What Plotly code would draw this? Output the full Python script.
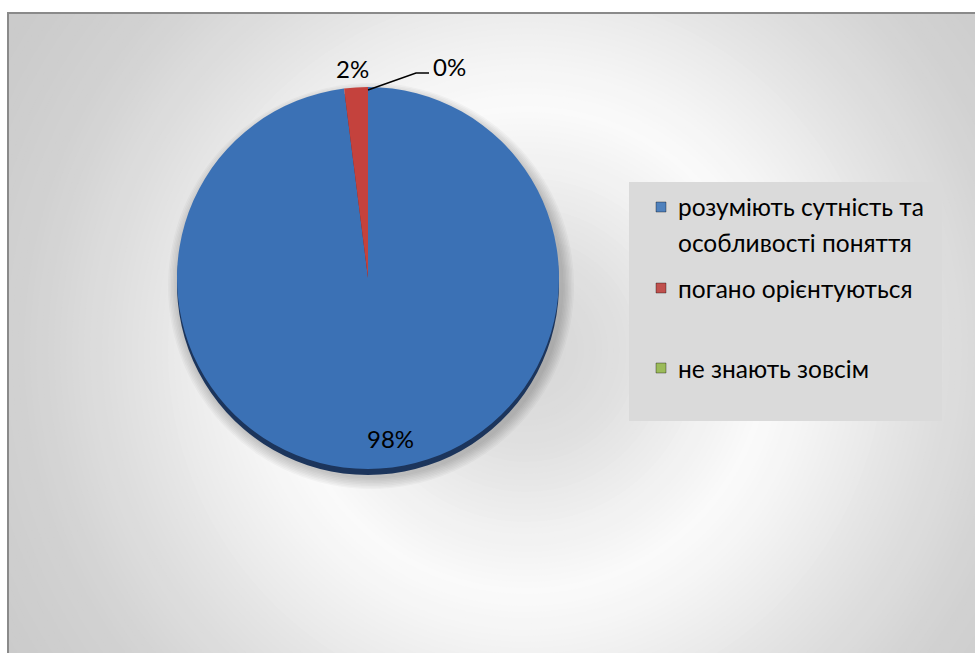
import plotly.graph_objects as go

# Survey answers and their shares
categories = ["розуміють сутність та особливості поняття",
              "погано орієнтуються",
              "не знають зовсім"]
legend_lines = [["розуміють сутність та", "особливості поняття"],
                ["погано орієнтуються"],
                ["не знають зовсім"]]
values = [98, 2, 0]

colors = ["#3B71B5", "#C4423D", "#9BBB59"]
side_colors = ["#1C355C", "#6E2422", "#566B2E"]
legend_colors = ["#4F81BD", "#C0504D", "#9BBB59"]

W, H = 975, 653
FONT = "Lato"


def fx(x):
    return x / W


def fy(y):
    return 1 - y / H


# pie geometry in pixels
cx, cy, r = 368, 278, 191
depth = 6

shapes = []

# chart area base and radial (ring) background gradient
shapes.append(dict(type="rect", xref="paper", yref="paper", layer="below",
                   x0=fx(7), x1=fx(990), y0=fy(670), y1=fy(12),
                   fillcolor="rgb(201,201,201)", line=dict(width=0)))
gx, gy = 526, 350
profile = [(0, 212), (100, 224), (180, 240), (245, 250), (300, 243),
           (400, 225), (500, 210), (600, 203), (800, 201)]


def grey_at(d):
    for (d0, g0), (d1, g1) in zip(profile, profile[1:]):
        if d0 <= d <= d1:
            return g0 + (g1 - g0) * (d - d0) / (d1 - d0)
    return profile[-1][1]


for rad in range(760, 0, -6):
    g = int(round(grey_at(rad)))
    shapes.append(dict(type="circle", xref="paper", yref="paper", layer="below",
                       x0=fx(gx - rad), x1=fx(gx + rad),
                       y0=fy(gy + rad), y1=fy(gy - rad),
                       fillcolor=f"rgb({g},{g},{g})", line=dict(width=0)))

# soft shadow around the pie
for k in range(8):
    rad = r + 12 - k * 1.5
    shapes.append(dict(type="circle", xref="paper", yref="paper", layer="below",
                       x0=fx(cx + 3 - rad), x1=fx(cx + 3 + rad),
                       y0=fy(cy + 8 + rad), y1=fy(cy + 8 - rad),
                       fillcolor="rgba(40,40,40,0.03)", line=dict(width=0)))

# white margin outside the chart frame
shapes.append(dict(type="rect", xref="paper", yref="paper", layer="below",
                   x0=0, x1=fx(7), y0=0, y1=1,
                   fillcolor="white", line=dict(width=0)))
shapes.append(dict(type="rect", xref="paper", yref="paper", layer="below",
                   x0=0, x1=1, y0=fy(12), y1=1,
                   fillcolor="white", line=dict(width=0)))
# chart frame
shapes.append(dict(type="rect", xref="paper", yref="paper", layer="below",
                   x0=fx(8), x1=fx(990), y0=fy(670), y1=fy(13),
                   fillcolor="rgba(0,0,0,0)", line=dict(color="#8A8A8A", width=2)))

# legend box
shapes.append(dict(type="rect", xref="paper", yref="paper", layer="below",
                   x0=fx(629), x1=fx(942), y0=fy(421), y1=fy(182),
                   fillcolor="rgb(218,218,218)", line=dict(width=0)))

# leader line to the zero-share label
shapes.append(dict(type="path", xref="paper", yref="paper", layer="above",
                   path=f"M {fx(368)} {fy(90)} L {fx(416)} {fy(73)} L {fx(429)} {fy(73)}",
                   line=dict(color="black", width=1.5)))

fig = go.Figure()

# side of the pie (depth)
fig.add_trace(go.Pie(
    labels=categories, values=values, sort=False, direction="clockwise", rotation=0,
    marker=dict(colors=side_colors, line=dict(width=0)),
    textinfo="none", hoverinfo="skip", showlegend=False,
    domain=dict(x=[fx(cx - r), fx(cx + r)], y=[fy(cy + depth + r), fy(cy + depth - r)]),
))
# top face of the pie
fig.add_trace(go.Pie(
    labels=categories, values=values, sort=False, direction="clockwise", rotation=0,
    marker=dict(colors=colors, line=dict(width=0)),
    textinfo="none", hoverinfo="skip", showlegend=False,
    domain=dict(x=[fx(cx - r), fx(cx + r)], y=[fy(cy + r), fy(cy - r)]),
))

total = sum(values)
pct = [f"{round(v / total * 100)}%" for v in values]
label_pos = [(390, 438), (352, 69), (449, 66)]

annotations = []
for txt, (x, y) in zip(pct, label_pos):
    annotations.append(dict(text=txt, x=fx(x), y=fy(y), xref="paper", yref="paper",
                            showarrow=False, xanchor="center", yanchor="middle",
                            font=dict(family=FONT, size=24, color="black")))

# legend entries
entry_y = [[207, 242], [288], [368]]
for lines, ys, col in zip(legend_lines, entry_y, legend_colors):
    my = ys[0]
    shapes.append(dict(type="rect", xref="paper", yref="paper", layer="above",
                       x0=fx(656), x1=fx(666), y0=fy(my + 5), y1=fy(my - 5),
                       fillcolor=col, line=dict(color="rgba(0,0,0,0.35)", width=1)))
    for line, ly in zip(lines, ys):
        annotations.append(dict(text=line, x=fx(676), y=fy(ly), xref="paper", yref="paper",
                                showarrow=False, xanchor="left", yanchor="middle",
                                font=dict(family=FONT, size=24.5, color="black")))

fig.update_layout(
    width=W, height=H,
    margin=dict(l=0, r=0, t=0, b=0),
    paper_bgcolor="white", plot_bgcolor="white",
    shapes=shapes, annotations=annotations,
    showlegend=False,
)

fig.write_html("out.html")
